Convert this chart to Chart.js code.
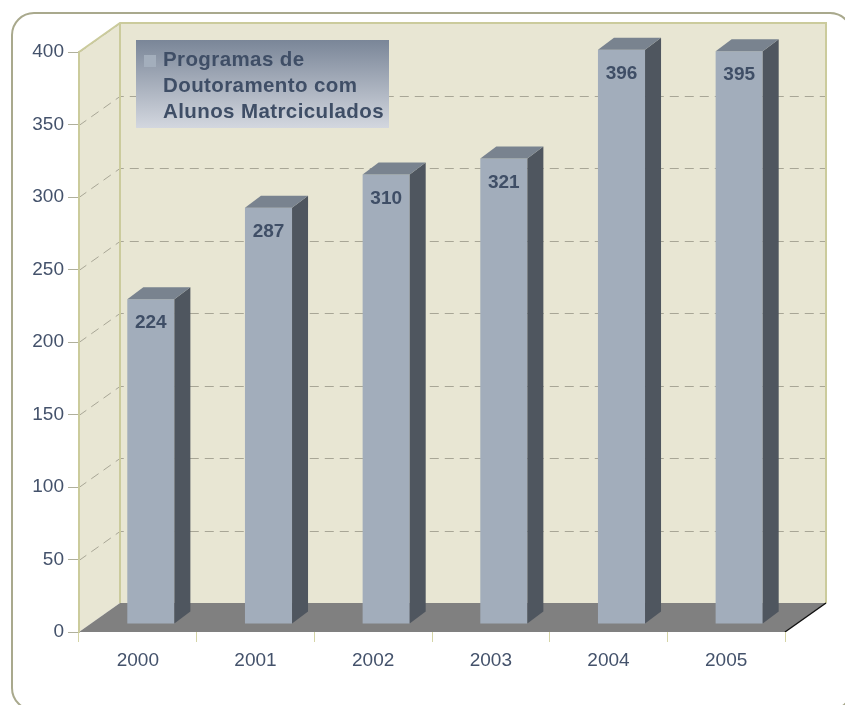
<!DOCTYPE html>
<html>
<head>
<meta charset="utf-8">
<script src="https://cdn.jsdelivr.net/npm/chart.js@4"></script>
<style>
html, body { margin: 0; padding: 0; background: #fff; }
</style>
</head>
<body>
<canvas id="chartCanvas" width="845" height="705"></canvas>
<script>
var years = ['2000', '2001', '2002', '2003', '2004', '2005'];
var programas = [224, 287, 310, 321, 396, 395];
var legendLines = ['Programas de', 'Doutoramento com', 'Alunos Matrciculados'];
var yMin = 0, yMax = 400, yStep = 50;

// 3d look: back wall offset, bar front plane offset, bar thickness
var DEPTH_X = 41, DEPTH_Y = -29;
var BAR_X = 13, BAR_Y = -8;
var SIDE_X = 16, SIDE_Y = -12;

var wallColor = '#e8e6d3';
var edgeColor = '#cbcb9c';
var textColor = '#44526b';

var threeD = {
    id: 'threeD',
    beforeDraw: function(chart) {
        var ctx = chart.ctx;
        var a = chart.chartArea;
        var y = chart.scales.y;
        ctx.save();
        // back wall
        ctx.fillStyle = wallColor;
        ctx.fillRect(a.left + DEPTH_X, a.top + DEPTH_Y, a.right - a.left, a.bottom - a.top);
        // left wall
        ctx.beginPath();
        ctx.moveTo(a.left, a.top);
        ctx.lineTo(a.left + DEPTH_X, a.top + DEPTH_Y);
        ctx.lineTo(a.left + DEPTH_X, a.bottom + DEPTH_Y);
        ctx.lineTo(a.left, a.bottom);
        ctx.closePath();
        ctx.fill();
        // dashed grid
        ctx.strokeStyle = '#a8a696';
        ctx.lineWidth = 1;
        ctx.setLineDash([9, 6]);
        for (var v = yMin + yStep; v <= yMax; v += yStep) {
            var py = Math.round(y.getPixelForValue(v)) + 0.5;
            ctx.beginPath();
            ctx.moveTo(a.left, py);
            ctx.lineTo(a.left + DEPTH_X, py + DEPTH_Y);
            ctx.lineTo(a.right + DEPTH_X, py + DEPTH_Y);
            ctx.stroke();
        }
        ctx.setLineDash([]);
        // wall edges
        ctx.strokeStyle = edgeColor;
        ctx.lineWidth = 2;
        ctx.beginPath();
        ctx.moveTo(a.left, a.top);
        ctx.lineTo(a.left + DEPTH_X, a.top + DEPTH_Y);
        ctx.lineTo(a.right + DEPTH_X, a.top + DEPTH_Y);
        ctx.lineTo(a.right + DEPTH_X, a.bottom + DEPTH_Y);
        ctx.moveTo(a.left + DEPTH_X, a.top + DEPTH_Y);
        ctx.lineTo(a.left + DEPTH_X, a.bottom + DEPTH_Y);
        ctx.stroke();
        // floor
        ctx.fillStyle = '#808080';
        ctx.beginPath();
        ctx.moveTo(a.left, a.bottom);
        ctx.lineTo(a.left + DEPTH_X, a.bottom + DEPTH_Y);
        ctx.lineTo(a.right + DEPTH_X, a.bottom + DEPTH_Y);
        ctx.lineTo(a.right, a.bottom);
        ctx.closePath();
        ctx.fill();
        ctx.strokeStyle = '#111';
        ctx.lineWidth = 1.5;
        ctx.beginPath();
        ctx.moveTo(a.right, a.bottom);
        ctx.lineTo(a.right + DEPTH_X, a.bottom + DEPTH_Y);
        ctx.stroke();
        ctx.restore();
    },
    beforeDatasetsDraw: function(chart) {
        chart.ctx.save();
        chart.ctx.translate(BAR_X, BAR_Y);
    },
    afterDatasetsDraw: function(chart) {
        var ctx = chart.ctx;
        var meta = chart.getDatasetMeta(0);
        meta.data.forEach(function(bar, i) {
            var p = bar.getProps(['x', 'y', 'base', 'width'], true);
            var l = p.x - p.width / 2, r = p.x + p.width / 2;
            // side
            ctx.fillStyle = '#4f565f';
            ctx.beginPath();
            ctx.moveTo(r, p.y);
            ctx.lineTo(r + SIDE_X, p.y + SIDE_Y);
            ctx.lineTo(r + SIDE_X, p.base + SIDE_Y);
            ctx.lineTo(r, p.base);
            ctx.closePath();
            ctx.fill();
            // top
            ctx.fillStyle = '#79838f';
            ctx.beginPath();
            ctx.moveTo(l, p.y);
            ctx.lineTo(l + SIDE_X, p.y + SIDE_Y);
            ctx.lineTo(r + SIDE_X, p.y + SIDE_Y);
            ctx.lineTo(r, p.y);
            ctx.closePath();
            ctx.fill();
            // value
            ctx.fillStyle = '#3f4e66';
            ctx.font = 'bold 19px "Liberation Sans", Arial, sans-serif';
            ctx.textAlign = 'center';
            ctx.textBaseline = 'middle';
            ctx.fillText(programas[i], p.x, p.y + 24);
        });
        ctx.restore();
    },
    afterDraw: function(chart) {
        var ctx = chart.ctx;
        ctx.save();
        // legend box
        var g = ctx.createLinearGradient(0, 40, 0, 128);
        g.addColorStop(0, '#7a8698');
        g.addColorStop(1, '#d3d7df');
        ctx.fillStyle = g;
        ctx.fillRect(136, 40, 253, 88);
        ctx.fillStyle = '#a3aebc';
        ctx.fillRect(144, 55, 12, 12);
        ctx.fillStyle = '#3f4e66';
        ctx.font = 'bold 20.5px "Liberation Sans", Arial, sans-serif';
        ctx.letterSpacing = '0.4px';
        ctx.textAlign = 'left';
        ctx.textBaseline = 'alphabetic';
        legendLines.forEach(function(t, i) {
            ctx.fillText(t, 163, 66 + i * 26);
        });
        ctx.letterSpacing = '0px';
        // outer frame
        ctx.strokeStyle = '#a9a98d';
        ctx.lineWidth = 2;
        ctx.beginPath();
        ctx.roundRect(12, 13, 840, 697, 22);
        ctx.stroke();
        ctx.restore();
    }
};

new Chart(document.getElementById('chartCanvas').getContext('2d'), {
    type: 'bar',
    data: {
        labels: years,
        datasets: [{
            label: legendLines.join(' '),
            data: programas,
            backgroundColor: '#a2adbb',
            borderWidth: 0,
            categoryPercentage: 1,
            barPercentage: 0.4,
            clip: false
        }]
    },
    options: {
        responsive: false,
        animation: false,
        layout: { padding: { top: 52, right: 60, left: 0, bottom: 0 } },
        plugins: {
            legend: { display: false },
            tooltip: { enabled: false }
        },
        scales: {
            x: {
                afterFit: function(scale) { scale.height = 73; },
                grid: {
                    offset: true,
                    drawOnChartArea: false,
                    tickLength: 10,
                    color: '#d4d4a6'
                },
                border: { display: false },
                ticks: {
                    color: textColor,
                    padding: 7,
                    font: { family: '"Liberation Sans", Arial, sans-serif', size: 19 }
                }
            },
            y: {
                min: yMin,
                max: yMax,
                afterFit: function(scale) { scale.width = 79; },
                grid: {
                    drawOnChartArea: false,
                    tickLength: 11,
                    color: '#b0b09c'
                },
                border: { display: true, color: edgeColor, width: 2 },
                ticks: {
                    stepSize: yStep,
                    color: textColor,
                    padding: 4,
                    font: { family: '"Liberation Sans", Arial, sans-serif', size: 19 }
                }
            }
        }
    },
    plugins: [threeD]
});
</script>
</body>
</html>
